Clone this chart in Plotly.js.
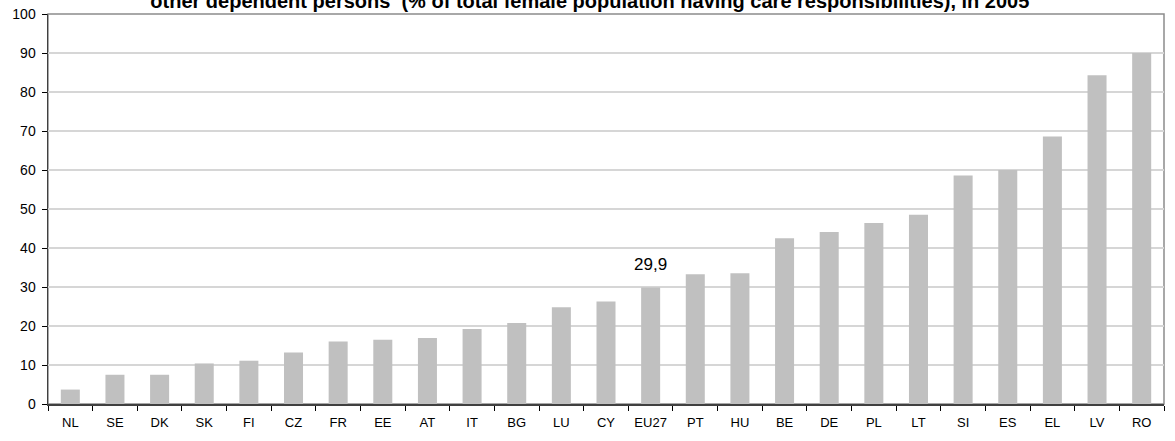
<!DOCTYPE html>
<html>
<head>
<meta charset="utf-8">
<script src="https://cdn.plot.ly/plotly-3.0.1.min.js"></script>
<style>
html,body{margin:0;padding:0;background:#fff;}
#chart{width:1175px;height:441px;}
</style>
</head>
<body>
<div id="chart"></div>
<script>
// Data
var categories = ["NL","SE","DK","SK","FI","CZ","FR","EE","AT","IT","BG","LU","CY","EU27","PT","HU","BE","DE","PL","LT","SI","ES","EL","LV","RO"];
var values = [3.7, 7.5, 7.5, 10.4, 11.1, 13.2, 16.0, 16.5, 16.9, 19.2, 20.8, 24.8, 26.3, 29.9, 33.3, 33.5, 42.5, 44.1, 46.4, 48.5, 58.6, 60.0, 68.6, 84.3, 90.0];
var yTicks = [0,10,20,30,40,50,60,70,80,90,100];
var titleText = "other dependent persons  (% of total female population having care responsibilities), in 2005";
var labelledCategory = "EU27";

var idx = categories.indexOf(labelledCategory);
var labelText = values[idx].toFixed(1).replace(".", ",");

var trace = {
  type: "bar",
  x: categories,
  y: values,
  marker: {color: "#c0c0c0", line: {width: 0}},
  hoverinfo: "x+y"
};

var layout = {
  width: 1175,
  height: 441,
  margin: {l: 48, r: 11, t: 14, b: 37, pad: 0},
  paper_bgcolor: "#ffffff",
  plot_bgcolor: "#ffffff",
  bargap: 0.574,
  showlegend: false,
  font: {family: "Liberation Sans, Arial, sans-serif", size: 13, color: "#000"},
  title: {
    text: "<b>" + titleText + "</b>",
    x: 0.502, xanchor: "center", xref: "container",
    y: 0.997, yanchor: "middle", yref: "container",
    font: {family: "Liberation Sans, Arial, sans-serif", size: 20, color: "#000"}
  },
  xaxis: {
    type: "category",
    tickson: "boundaries",
    ticks: "outside",
    ticklen: 5,
    tickcolor: "#000",
    tickwidth: 1,
    ticklabelstandoff: 6,
    showline: true,
    linecolor: "#404040",
    linewidth: 1.5,
    showgrid: false,
    zeroline: false,
    tickfont: {family: "Liberation Sans, Arial, sans-serif", size: 13, color: "#000"},
    fixedrange: true
  },
  yaxis: {
    range: [0, 100],
    tickvals: yTicks,
    ticktext: yTicks.map(String),
    ticks: "outside",
    ticklen: 5,
    tickcolor: "#000",
    tickwidth: 1,
    ticklabelstandoff: 3,
    showline: true,
    linecolor: "#404040",
    linewidth: 1.5,
    showgrid: true,
    gridcolor: "#d6d6d6",
    gridwidth: 1.2,
    zeroline: false,
    tickfont: {family: "Liberation Sans, Arial, sans-serif", size: 14, color: "#000"},
    fixedrange: true
  },
  shapes: [{
    type: "rect", xref: "paper", yref: "paper",
    x0: 0, x1: 1, y0: 0, y1: 1,
    line: {color: "#8c8c8c", width: 1.5},
    layer: "below"
  }],
  annotations: [{
    x: labelledCategory, y: values[idx],
    xref: "x", yref: "y",
    text: labelText,
    showarrow: false,
    yanchor: "bottom",
    yshift: 11,
    font: {family: "Liberation Sans, Arial, sans-serif", size: 17, color: "#000"}
  }]
};

Plotly.newPlot("chart", [trace], layout, {displayModeBar: false, staticPlot: true});
</script>
</body>
</html>
